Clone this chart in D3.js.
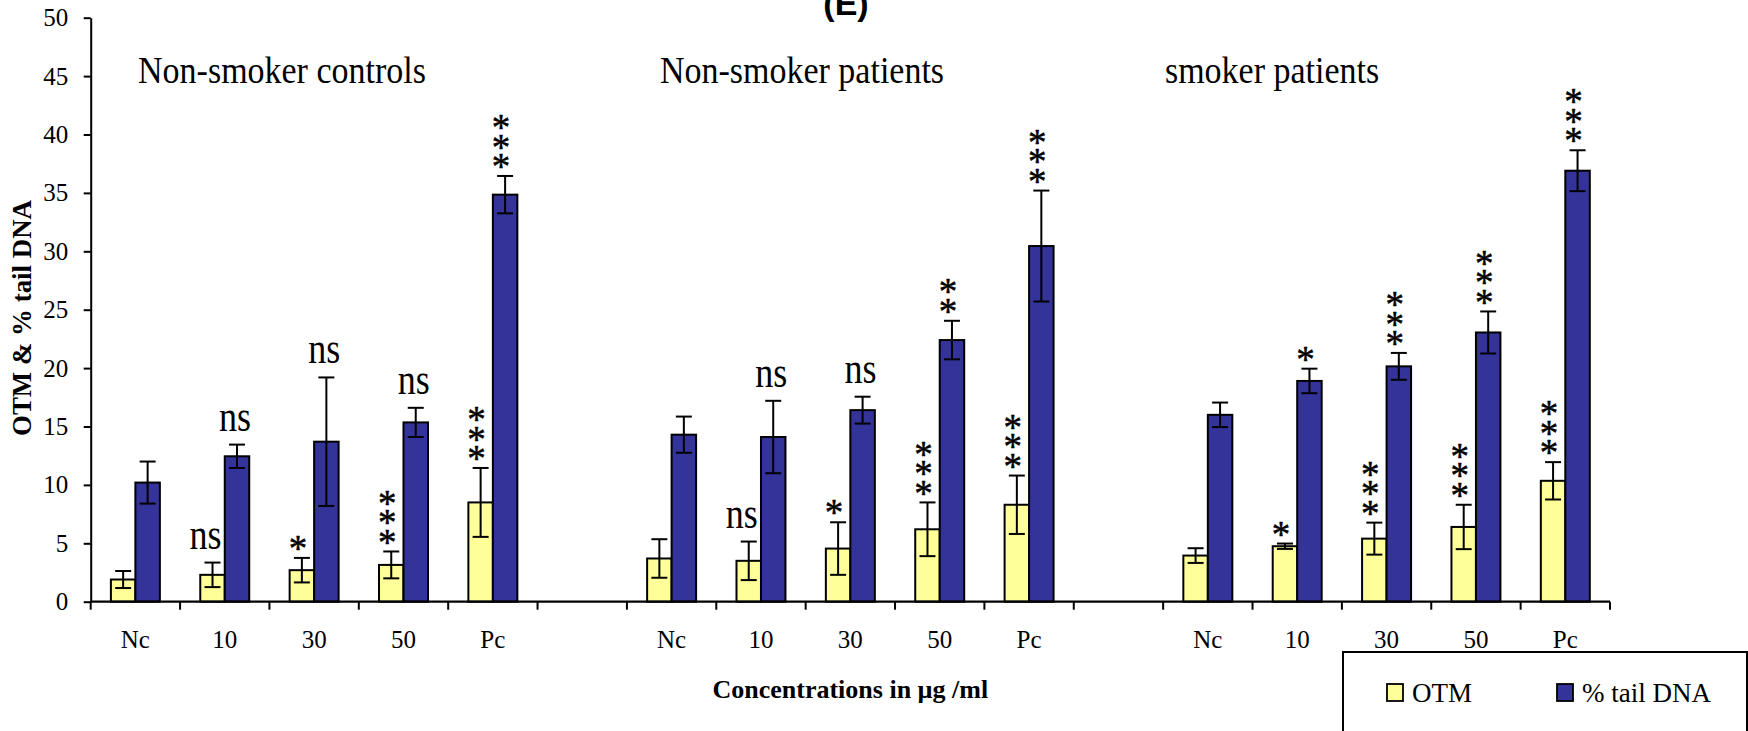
<!DOCTYPE html>
<html>
<head>
<meta charset="utf-8">
<script src="https://cdn.jsdelivr.net/npm/d3@7"></script>
<style>
  body { margin: 0; background: #fff; }
  svg { display: block; }
  text { font-family: "Liberation Serif", "Times New Roman", serif; fill: #000; }
</style>
</head>
<body>
<svg id="chart" width="1748" height="731"></svg>
<script>
// ---- data ----
const categories = ["Nc", "10", "30", "50", "Pc"];
const groups = ["Non-smoker controls", "Non-smoker patients", "smoker patients"];
const seriesNames = ["OTM", "% tail DNA"];

// OTM per group (Nc, 10, 30, 50, Pc)
const otmControls = [1.9, 2.3, 2.7, 3.15, 8.5];
const otmNonSmokers = [3.7, 3.5, 4.55, 6.2, 8.3];
const otmSmokers = [3.95, 4.75, 5.4, 6.4, 10.35];
const otmErrControls = [0.73, 1.05, 1.05, 1.15, 2.95];
const otmErrNonSmokers = [1.65, 1.65, 2.25, 2.3, 2.5];
const otmErrSmokers = [0.63, 0.23, 1.37, 1.9, 1.6];

// % tail DNA per group
const tailControls = [10.2, 12.45, 13.7, 15.35, 34.85];
const tailNonSmokers = [14.3, 14.1, 16.4, 22.4, 30.45];
const tailSmokers = [16.0, 18.9, 20.15, 23.05, 36.9];
const tailErrControls = [1.8, 1.0, 5.5, 1.25, 1.6];
const tailErrNonSmokers = [1.55, 3.1, 1.15, 1.65, 4.75];
const tailErrSmokers = [1.05, 1.05, 1.15, 1.8, 1.75];

// significance marks
const otmSigControls = ["", "ns", "*", "***", "***"];
const otmSigNonSmokers = ["", "ns", "*", "***", "***"];
const otmSigSmokers = ["", "*", "***", "***", "***"];
const tailSigControls = ["", "ns", "ns", "ns", "***"];
const tailSigNonSmokers = ["", "ns", "ns", "**", "***"];
const tailSigSmokers = ["", "*", "***", "***", "***"];

const yTicks = [0, 5, 10, 15, 20, 25, 30, 35, 40, 45, 50];

// ---- build table ----
const otmByGroup = [otmControls, otmNonSmokers, otmSmokers];
const otmErrByGroup = [otmErrControls, otmErrNonSmokers, otmErrSmokers];
const tailByGroup = [tailControls, tailNonSmokers, tailSmokers];
const tailErrByGroup = [tailErrControls, tailErrNonSmokers, tailErrSmokers];
const otmSigByGroup = [otmSigControls, otmSigNonSmokers, otmSigSmokers];
const tailSigByGroup = [tailSigControls, tailSigNonSmokers, tailSigSmokers];

const slots = [];
groups.forEach((g, gi) => {
  categories.forEach((c, ci) => {
    slots.push({
      key: gi + "-" + c, label: c, gi,
      values: [
        { series: seriesNames[0], mean: otmByGroup[gi][ci], err: otmErrByGroup[gi][ci], sig: otmSigByGroup[gi][ci] },
        { series: seriesNames[1], mean: tailByGroup[gi][ci], err: tailErrByGroup[gi][ci], sig: tailSigByGroup[gi][ci] }
      ]
    });
  });
  if (gi < groups.length - 1) slots.push({ key: "gap" + gi, label: "", gi: null, values: [] });
});

// ---- layout ----
const svg = d3.select("#chart");
svg.append("rect").attr("width", 1748).attr("height", 731).attr("fill", "#fff");

const plotLeft = 90.7, plotRight = 1610, plotTop = 17.7, plotBottom = 601.7;
const x = d3.scaleBand().domain(slots.map(d => d.key)).range([plotLeft, plotRight]).padding(0);
const y = d3.scaleLinear().domain([0, 50]).range([plotBottom, plotTop]);
const bw = x.bandwidth();
const inner = d3.scaleBand().domain(seriesNames).range([bw * 0.226, bw * 0.774]).padding(0);
const color = d3.scaleOrdinal().domain(seriesNames).range(["#FFFF99", "#333399"]);

// y axis
const yAxis = svg.append("g")
  .attr("transform", `translate(${plotLeft},0)`)
  .call(d3.axisLeft(y).tickValues(yTicks).tickSizeInner(7).tickSizeOuter(0).tickPadding(15.5));
yAxis.select(".domain").attr("stroke", "#000").attr("stroke-width", 2);
yAxis.selectAll(".tick line").attr("stroke", "#000").attr("stroke-width", 2);
yAxis.selectAll(".tick text").attr("font-size", 25).attr("font-family", "Liberation Serif, Times New Roman, serif");

// x axis: labels centred in bands, ticks on band boundaries
const xAxis = svg.append("g")
  .attr("transform", `translate(0,${plotBottom})`)
  .call(d3.axisBottom(x).tickSize(0).tickFormat(k => slots.find(s => s.key === k).label));
xAxis.select(".domain").remove();
xAxis.selectAll(".tick text")
  .attr("font-size", 25).attr("font-family", "Liberation Serif, Times New Roman, serif")
  .attr("y", 46.5).attr("dy", null);

const bounds = slots.map(d => x(d.key)).concat([plotRight]);
svg.append("g").selectAll("line").data(bounds).join("line")
  .attr("x1", d => d).attr("x2", d => d)
  .attr("y1", plotBottom).attr("y2", plotBottom + 8)
  .attr("stroke", "#000").attr("stroke-width", 2);

// bars
const slotG = svg.append("g").selectAll("g").data(slots.filter(s => s.values.length)).join("g")
  .attr("transform", d => `translate(${x(d.key)},0)`);

slotG.selectAll("rect").data(d => d.values).join("rect")
  .attr("x", d => inner(d.series))
  .attr("width", inner.bandwidth())
  .attr("y", d => y(d.mean))
  .attr("height", d => y(0) - y(d.mean))
  .attr("fill", d => color(d.series))
  .attr("stroke", "#000").attr("stroke-width", 2);

// x axis line drawn over bar bottoms
svg.append("line").attr("x1", plotLeft).attr("x2", plotRight)
  .attr("y1", plotBottom).attr("y2", plotBottom)
  .attr("stroke", "#000").attr("stroke-width", 2.2);

// error bars
const capHalf = 8;
const eb = slotG.selectAll("g.err").data(d => d.values).join("g").attr("class", "err")
  .attr("stroke", "#000").attr("stroke-width", 2);
const cx = d => inner(d.series) + inner.bandwidth() / 2;
eb.append("line").attr("x1", cx).attr("x2", cx)
  .attr("y1", d => y(d.mean + d.err)).attr("y2", d => y(d.mean - d.err));
eb.append("line").attr("x1", d => cx(d) - capHalf).attr("x2", d => cx(d) + capHalf)
  .attr("y1", d => y(d.mean + d.err)).attr("y2", d => y(d.mean + d.err));
eb.append("line").attr("x1", d => cx(d) - capHalf).attr("x2", d => cx(d) + capHalf)
  .attr("y1", d => y(d.mean - d.err)).attr("y2", d => y(d.mean - d.err));

// significance marks above the error bars
const starSize = 37, starStep = 19.5, starGap = 8, nsGap = 14;
slotG.each(function (s) {
  const g = d3.select(this);
  s.values.forEach(v => {
    if (!v.sig) return;
    const top = y(v.mean + v.err);
    const px = cx(v);
    const nudge = v.series === seriesNames[0] ? -7 : -2;
    if (v.sig === "ns") {
      g.append("text")
        .attr("transform", `translate(${px + nudge},${top - nsGap}) scale(1,1.25)`)
        .attr("text-anchor", "middle").attr("font-size", 36).text("ns");
    } else {
      const n = v.sig.length;
      for (let k = 0; k < n; k++) {
        g.append("text")
          .attr("x", px - 4)
          .attr("y", top - starGap - k * starStep + 0.3 * starSize)
          .attr("text-anchor", "middle").attr("font-size", starSize)
          .attr("stroke", "#000").attr("stroke-width", 0.5)
          .text("*");
      }
    }
  });
});

// group captions
const captionOffsets = [0.53, 0.37, 0.02];
groups.forEach((g, gi) => {
  const first = slots.find(s => s.gi === gi);
  svg.append("text")
    .attr("transform", `translate(${x(first.key) + captionOffsets[gi] * bw},83) scale(1,1.12)`)
    .attr("font-size", 34).text(g);
});

// panel letter, clipped at the top edge
svg.append("text").attr("x", 846).attr("y", 15).attr("text-anchor", "middle")
  .attr("font-weight", "bold").attr("font-size", 34)
  .style("font-family", "Liberation Sans, Arial, sans-serif").text("(E)");

// axis titles
svg.append("text").attr("transform", "translate(31,318) rotate(-90)")
  .attr("text-anchor", "middle").attr("font-weight", "bold").attr("font-size", 27)
  .attr("textLength", 236).attr("lengthAdjust", "spacingAndGlyphs")
  .text("OTM & % tail DNA");
svg.append("text").attr("x", (plotLeft + plotRight) / 2).attr("y", 698)
  .attr("text-anchor", "middle").attr("font-weight", "bold").attr("font-size", 26)
  .text("Concentrations in µg /ml");

// legend
const legend = svg.append("g");
legend.append("rect").attr("x", 1343).attr("y", 652).attr("width", 404).attr("height", 120)
  .attr("fill", "#fff").attr("stroke", "#000").attr("stroke-width", 2);
const legendX = [1387, 1557];
seriesNames.forEach((name, i) => {
  legend.append("rect").attr("x", legendX[i]).attr("y", 684).attr("width", 16).attr("height", 17)
    .attr("fill", color(name)).attr("stroke", "#000").attr("stroke-width", 1.8);
  legend.append("text").attr("x", legendX[i] + 25).attr("y", 701.5)
    .attr("font-size", 27).text(name);
});
</script>
</body>
</html>
